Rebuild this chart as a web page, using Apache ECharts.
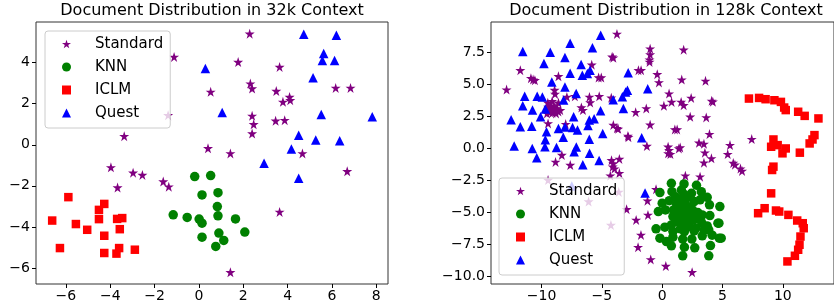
<!DOCTYPE html>
<html><head><meta charset="utf-8">
<script src="https://cdn.jsdelivr.net/npm/echarts@6/dist/echarts.min.js"></script>
<style>html,body{margin:0;padding:0;background:#fff}#c{width:834px;height:306px}</style>
</head><body><div id="c"></div>
<script>
const titleLeft = 'Document Distribution in 32k Context';
const titleRight = 'Document Distribution in 128k Context';
const seriesNames = ['Standard', 'KNN', 'ICLM', 'Quest'];
const colors = ['#800080', '#008000', '#ff0000', '#0000ff'];

// ---- 32k context ----
const std32 = [[2.29,5.41],[-1.12,4.28],[1.77,4.03],[3.64,3.79],[2.32,2.98],[2.40,2.74],[0.53,2.58],[3.49,2.62],[4.09,2.33],[4.12,2.17],[3.79,2.09],[6.17,2.77],[6.84,2.77],[-1.39,1.44],[2.40,1.41],[2.47,1.00],[3.46,1.17],[3.87,1.20],[2.40,0.55],[-3.37,0.42],[0.41,-0.17],[1.42,-0.42],[4.67,-0.42],[-3.97,-1.10],[-2.97,-1.36],[-2.55,-1.47],[6.69,-1.29],[-1.61,-1.79],[-1.36,-2.04],[-3.67,-2.08],[3.64,-3.27],[1.42,-6.21]];
const knn32 = [[-0.19,-1.55],[0.53,-1.50],[0.14,-2.44],[0.86,-2.33],[0.83,-3.01],[-1.16,-3.41],[-0.53,-3.54],[0.01,-3.62],[0.14,-3.82],[0.86,-3.46],[1.65,-3.61],[0.90,-4.30],[2.07,-4.25],[0.14,-4.50],[1.12,-4.66],[0.76,-4.95]];
const iclm32 = [[-5.89,-2.55],[-6.62,-3.69],[-6.27,-5.03],[-5.55,-3.86],[-5.04,-4.14],[-4.51,-3.17],[-4.27,-2.88],[-4.51,-3.62],[-4.27,-4.43],[-4.27,-5.27],[-3.69,-3.61],[-3.46,-3.57],[-3.57,-4.11],[-3.60,-5.03],[-3.72,-5.30],[-2.89,-5.11]];
const quest32 = [[4.73,5.38],[6.20,5.33],[5.63,4.44],[5.57,4.11],[6.12,4.11],[0.29,3.71],[5.15,3.26],[1.05,1.57],[5.52,1.48],[7.82,1.36],[4.50,0.47],[5.27,0.23],[6.35,0.20],[4.17,-0.21],[2.94,-0.90],[4.50,-1.63]];

// ---- 128k context ----
const std128 = [[-12.9,4.56],[-11.76,6.07],[-10.88,5.45],[-10.7,5.34],[-10.55,5.29],[-8.6,5.6],[-8.92,4.53],[-8.88,4.22],[-9.48,3.53],[-9.12,3.66],[-8.6,3.53],
[-9.45,3.2],[-9.2,3.0],[-9.0,2.9],[-8.75,3.1],[-8.6,2.85],[-8.45,2.95],[-9.1,2.75],[-9.3,2.8],[-9.55,2.7],[-8.9,3.25],[-9.35,3.05],[-8.8,2.7],[-9.0,3.1],[-9.2,3.3],[-8.7,3.0],
[-9.46,1.92],[-8.0,1.87],[-7.9,3.99],[-7.24,4.04],[-6.7,3.16],[-6.57,2.96],[-6.03,3.99],[-5.97,3.55],[-5.22,4.04],[-5.84,6.5],[-5.27,5.5],[-5.05,5.5],[-4.15,7.12],[-4.05,7.05],[-3.75,8.9],[-4.22,3.92],[-4.05,1.8],[-3.75,1.55],[-3.65,1.5],[-2.84,0.95],[-2.8,0.85],[-2.2,2.8],[-1.32,3.09],[-1.0,1.82],[-1.27,0.16],[-1.97,6.07],[-1.75,6.07],[-1.0,7.75],[-1.0,7.3],[-1.05,6.9],[-1.05,6.72],[-0.41,5.76],[-0.27,5.12],[0.57,4.25],[0.14,3.29],[0.78,3.6],[1.57,3.6],[1.78,3.34],[1.62,5.34],[1.78,7.67],[2.4,3.91],[2.32,2.44],[3.59,5.24],[4.1,3.68],[4.2,3.62],[3.65,2.39],[3.92,1.09],[1.05,1.45],[1.24,1.45],[0.49,0.1],[0.57,-0.16],[0.49,-0.41],[0.68,-0.47],[1.38,-0.03],[1.49,0.05],[3.05,0.41],[3.46,0.33],[3.54,-0.36],[4.08,-0.8],[3.46,-1.14],[1.92,-2.15],[3.14,-2.23],[-0.51,-3.21],
[-8.32,-0.54],[-8.84,-1.08],[-7.62,-1.32],
[-4.2,-0.95],[-4.05,-1.2],[-4.1,-1.45],[-3.95,-1.6],[-4.3,-2.15],[-3.55,-1.95],[-3.55,-0.85],
[-9.46,-2.49],[-6.1,-4.17],[-3.6,-3.42],[-4.25,-6.0],
[-2.95,-4.77],[-2.16,-5.6],[-1.76,-6.77],[-2.0,-7.73],[-0.95,-8.68],[0.3,-9.2],[2.48,-9.68],[-1.22,-4.1],[-1.18,-5.21],
[5.62,0.23],[5.43,-0.47],[5.89,-1.16],[6.03,-1.3],[6.49,-1.6],[6.62,-1.78],[7.42,0.7]];
const knn128 = [[0.76,-2.75],[1.81,-2.80],[2.84,-2.90],[-0.19,-3.47],[0.81,-3.40],[1.59,-3.27],[2.43,-3.53],[3.24,-3.40],[3.73,-3.84],[2.05,-3.86],[1.35,-3.99],[0.59,-4.10],[0.0,-4.30],[2.65,-4.17],[3.14,-4.04],[3.92,-4.43],[4.78,-4.56],[-0.32,-4.95],[0.27,-4.82],[0.95,-4.82],[1.49,-4.69],[2.03,-4.90],[2.51,-4.82],[2.95,-5.03],[0.89,-5.34],[1.57,-5.47],[2.19,-5.29],[2.73,-5.47],[3.32,-5.21],[3.95,-5.26],[4.62,-5.86],[3.73,-6.07],[3.27,-5.81],[2.78,-6.25],[2.24,-6.12],[1.70,-5.99],[1.16,-5.73],[0.76,-5.99],[0.22,-6.17],[-0.51,-6.30],[0.89,-6.51],[1.84,-6.51],[2.65,-6.46],[3.46,-6.38],[3.86,-6.38],[-0.19,-7.03],[0.89,-6.95],[1.70,-7.10],[2.46,-7.10],[3.32,-6.84],[4.14,-6.79],[4.73,-7.03],[0.35,-7.29],[0.76,-7.62],[1.84,-7.73],[2.70,-7.78],[4.0,-7.60],[1.70,-8.40],[3.86,-8.40],[4.70,-5.86],[4.89,-7.03],
[1.2,-4.4],[1.6,-5.1],[1.9,-4.3],[1.3,-5.4],[2.0,-5.8],[1.5,-6.3],[1.1,-3.8],[2.3,-4.6],[1.8,-3.6],[2.6,-5.6],[1.0,-5.0],[1.7,-4.0]];
const iclm128 = [[7.19,3.86],[8.03,3.91],[8.57,3.81],[9.30,3.73],[9.84,3.60],[10.11,3.16],[10.24,2.96],[11.27,2.83],[11.81,2.51],[12.95,2.31],[12.62,1.01],[12.46,0.67],[12.22,0.36],[9.22,0.67],[9.03,0.10],[9.57,0.23],[9.97,-0.41],[10.24,-0.03],[11.41,-0.36],[9.22,-1.45],[9.11,-1.71],[9.03,-3.53],[7.95,-5.08],[8.49,-4.69],[9.43,-4.87],[9.70,-4.95],[10.46,-5.21],[11.19,-5.65],[11.65,-5.86],[11.73,-6.25],[11.46,-6.90],[11.38,-7.54],[11.27,-7.93],[11.0,-8.40],[10.38,-8.84]];
const quest128 = [[-5.1,8.79],[-7.63,8.17],[-11.56,7.52],[-9.28,7.47],[-5.78,7.83],[-8.06,7.07],[-9.8,6.59],[-6.72,6.51],[-7.63,5.83],[-6.62,5.68],[-6.2,5.81],[-5.98,6.07],[-9.15,5.16],[-8.06,4.77],[-11.4,4.04],[-10.36,4.04],[-9.93,3.99],[-11.56,3.3],[-10.75,2.96],[-9.69,3.05],[-8.17,3.75],[-7.13,4.25],[-12.52,2.2],[-11.76,1.66],[-10.81,1.71],[-10.08,2.44],[-9.59,1.27],[-8.6,1.53],[-8.06,1.64],[-7.34,2.44],[-7.43,1.61],[-7.02,1.4],[-6.15,1.75],[-6.04,2.18],[-5.64,2.28],[-5.11,2.9],[-4.93,1.14],[-8.2,0.85],[-9.69,0.64],[-12.27,0.16],[-10.77,-0.03],[-9.72,0.1],[-8.76,0.05],[-7.12,0.08],[-6.04,0.68],[-6.02,-0.41],[-10.4,-0.75],[-7.3,-0.29],[-6.58,-1.3],[-5.23,-0.97],[-4.06,3.76],[-3.3,4.0],[-3.03,4.38],[-2.88,4.5],[-3.22,3.09],[-2.82,5.88],[-1.2,4.62],[-1.7,0.8],[-1.42,-3.5],[-7.49,-2.95]];

const xTicks32 = [-6, -4, -2, 0, 2, 4, 6, 8];
const yTicks32 = [-6, -4, -2, 0, 2, 4];
const xTicks128 = [-10, -5, 0, 5, 10];
const yTicks128 = [-10, -7.5, -5, -2.5, 0, 2.5, 5, 7.5];

const FONT = 'DejaVu Sans';
const starPath = 'path://M100,0L122.45,69.1L195.1,69.1L136.3,111.8L158.8,180.9L100,138.2L41.2,180.9L63.7,111.8L4.9,69.1L77.55,69.1Z';
const symbols = [starPath, 'circle', 'rect', 'triangle'];
const symbolSizes = [10, 9.5, 8.5, 9.5];

function fmt(dec) {
  return v => (dec ? Number(v).toFixed(1) : String(Math.round(v))).replace('-', '\u2212');
}
function axisCommon(idx, min, max, ticks, dec, margin) {
  return {
    type: 'value', gridIndex: idx, min, max,
    axisLine: { show: false, onZero: false },
    axisTick: { show: true, customValues: ticks, length: 4, lineStyle: { color: '#000', width: 1 } },
    axisLabel: { customValues: ticks, formatter: fmt(dec), fontSize: 14, fontFamily: FONT, color: '#000', margin },
    splitLine: { show: false }
  };
}
function legend(left, top) {
  return {
    left, top, orient: 'vertical', selectedMode: false,
    data: seriesNames.map((n, i) => ({ name: n, icon: symbols[i] })),
    itemWidth: 9, itemHeight: 9, itemGap: 5, padding: [4, 7, 6, 17],
    backgroundColor: 'rgba(255,255,255,0.8)', borderColor: '#cccccc', borderWidth: 1, borderRadius: 3,
    textStyle: { fontSize: 15, fontFamily: FONT, color: '#000', lineHeight: 18, padding: [0, 0, 0, 19] }
  };
}
const data32 = [std32, knn32, iclm32, quest32];
const data128 = [std128, knn128, iclm128, quest128];
const series = [];
[data32, data128].forEach((set, g) => {
  set.forEach((d, i) => {
    series.push({
      type: 'scatter', name: seriesNames[i], xAxisIndex: g, yAxisIndex: g,
      data: d, symbol: symbols[i], symbolSize: symbolSizes[i],
      itemStyle: { color: colors[i], opacity: 1 }, emphasis: { disabled: true }, animation: false
    });
  });
});

const chart = echarts.init(document.getElementById('c'), null, { renderer: 'canvas' });
chart.setOption({
  animation: false,
  backgroundColor: '#fff',
  color: colors,
  title: [
    { text: titleLeft, left: 212, top: 3, textAlign: 'center', padding: 0, textStyle: { fontSize: 16, fontWeight: 'normal', fontFamily: FONT, color: '#000' } },
    { text: titleRight, left: 666, top: 3, textAlign: 'center', padding: 0, textStyle: { fontSize: 16, fontWeight: 'normal', fontFamily: FONT, color: '#000' } }
  ],
  grid: [
    { left: 36, top: 22, width: 352, height: 262, show: true, borderColor: '#333', borderWidth: 1, backgroundColor: 'transparent' },
    { left: 491, top: 22, width: 351, height: 262, show: true, borderColor: '#333', borderWidth: 1, backgroundColor: 'transparent' }
  ],
  xAxis: [axisCommon(0, -7.35, 8.53, xTicks32, false, 5), axisCommon(1, -14.19, 14.24, xTicks128, false, 5)],
  yAxis: [axisCommon(0, -6.78, 5.98, yTicks32, false, 6), axisCommon(1, -10.6, 9.83, yTicks128, true, 6)],
  legend: [legend(45, 31), legend(499, 178)],
  series
});
</script></body></html>
